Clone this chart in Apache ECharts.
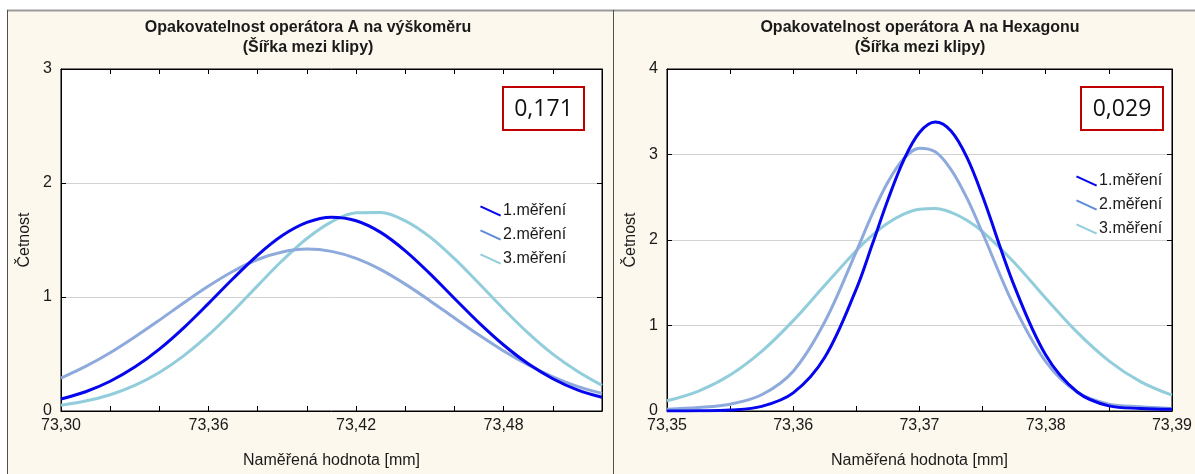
<!DOCTYPE html>
<html>
<head>
<meta charset="utf-8">
<script src="https://cdn.jsdelivr.net/npm/echarts@6/dist/echarts.min.js"></script>
<style>
  html, body { margin: 0; padding: 0; background: #fff; }
  #chart { width: 1195px; height: 474px; }
</style>
</head>
<body>
<div id="chart"></div>
<script>
// levý graf - výškoměr
const xLeft = [73.30, 73.31, 73.32, 73.33, 73.34, 73.35, 73.36, 73.37, 73.38, 73.39, 73.40, 73.41,
  73.42, 73.43, 73.44, 73.45, 73.46, 73.47, 73.48, 73.49, 73.50, 73.51, 73.52]
const left1 = [0.105, 0.169, 0.261, 0.385, 0.543, 0.732, 0.944, 1.162, 1.368, 1.539, 1.654, 1.700,
  1.669, 1.567, 1.405, 1.205, 0.987, 0.773, 0.579, 0.414, 0.283, 0.185, 0.120]
const left2 = [0.289, 0.391, 0.511, 0.649, 0.797, 0.950, 1.096, 1.226, 1.329, 1.395, 1.420, 1.400,
  1.338, 1.240, 1.113, 0.968, 0.816, 0.666, 0.527, 0.404, 0.300, 0.216, 0.155]
const left3 = [0.051, 0.087, 0.143, 0.225, 0.338, 0.486, 0.667, 0.876, 1.100, 1.320, 1.513, 1.659,
  1.738, 1.742, 1.668, 1.527, 1.336, 1.118, 0.894, 0.683, 0.499, 0.349, 0.225]

// pravý graf - Hexagon
const xRight = [73.35, 73.3525, 73.355, 73.3575, 73.36, 73.3625, 73.365, 73.36625, 73.3675, 73.36875,
  73.37, 73.37125, 73.3725, 73.37375, 73.375, 73.3775, 73.38, 73.3825, 73.385, 73.3875, 73.39]
const right1 = [0.000, 0.002, 0.011, 0.054, 0.212, 0.629, 1.429, 1.944, 2.471, 2.935,
  3.258, 3.380, 3.275, 2.969, 2.511, 1.467, 0.654, 0.222, 0.060, 0.030, 0.020]
const right2 = [0.020, 0.040, 0.080, 0.190, 0.466, 1.043, 1.868, 2.300, 2.679, 2.951,
  3.074, 3.031, 2.824, 2.492, 2.079, 1.223, 0.577, 0.218, 0.080, 0.050, 0.030]
const right3 = [0.119, 0.233, 0.421, 0.697, 1.057, 1.471, 1.878, 2.054, 2.198, 2.302,
  2.360, 2.367, 2.323, 2.232, 2.098, 1.737, 1.319, 0.919, 0.587, 0.344, 0.185]

const seriesNames = ['1.měření', '2.měření', '3.měření']
const titles = ['Opakovatelnost operátora A na výškoměru\n(Šířka mezi klipy)',
  'Opakovatelnost operátora A na Hexagonu\n(Šířka mezi klipy)']
const boxTexts = ['0,171', '0,029']

const font = 'Liberation Sans'
const textColor = '#1a1a1a'
const lineColors = ['#0505ee', '#8eaadc', '#92cddc']
const legendColors = ['#0505ee', '#5f8cd8', '#92cddc']
const legendIcon = 'path://M1,0 L23,10 L22,12 L0,2 Z'

const fmt = v => v.toFixed(2).replace('.', ',')

function pairs(xs, ys) {
  return xs.map((x, i) => [x, ys[i]])
}

function xAxisCfg(grid, min, max, interval, everyN, top) {
  return {
    type: 'value',
    gridIndex: grid,
    position: top ? 'top' : 'bottom',
    min: min,
    max: max,
    interval: interval,
    name: top ? '' : 'Naměřená hodnota [mm]',
    nameLocation: 'middle',
    nameGap: 42,
    nameTextStyle: { fontFamily: font, fontSize: 16, color: textColor },
    axisLine: { show: true, onZero: false, lineStyle: { color: '#000', width: 1 } },
    axisTick: { show: true, inside: true, length: 5, lineStyle: { color: '#000' } },
    splitLine: { show: false },
    axisLabel: {
      show: !top,
      showMaxLabel: true,
      showMinLabel: true,
      hideOverlap: false,
      margin: 7,
      fontFamily: font,
      fontSize: 16,
      color: textColor,
      formatter: function (v) {
        return Math.round((v - min) / interval) % everyN === 0 ? fmt(v) : ''
      }
    }
  }
}

function yAxisCfg(grid, max, right) {
  return {
    type: 'value',
    gridIndex: grid,
    position: right ? 'right' : 'left',
    min: 0,
    max: max,
    interval: 1,
    name: right ? '' : 'Četnost',
    nameLocation: 'middle',
    nameGap: 28,
    nameRotate: 90,
    nameTextStyle: { fontFamily: font, fontSize: 16, color: textColor },
    axisLine: { show: true, lineStyle: { color: '#000', width: 1 } },
    axisTick: { show: true, inside: true, length: 5, lineStyle: { color: '#000' } },
    splitLine: { show: !right, lineStyle: { color: '#d2d2d2', width: 1 } },
    axisLabel: { show: !right, margin: 9, fontFamily: font, fontSize: 16, color: textColor }
  }
}

function lineSeries(idx, xAxisIndex, yAxisIndex, xs, ys) {
  return {
    type: 'line',
    name: seriesNames[idx],
    xAxisIndex: xAxisIndex,
    yAxisIndex: yAxisIndex,
    data: pairs(xs, ys),
    smooth: 0.35,
    showSymbol: false,
    animation: false,
    z: 10 - idx,
    itemStyle: { color: legendColors[idx] },
    lineStyle: { color: lineColors[idx], width: 3 }
  }
}

function legendCfg(left, top) {
  return {
    data: seriesNames,
    orient: 'vertical',
    left: left,
    top: top,
    icon: legendIcon,
    itemWidth: 23,
    itemHeight: 11,
    itemGap: 8,
    padding: 0,
    selectedMode: false,
    textStyle: { fontFamily: font, fontSize: 16, color: textColor, padding: [0, 0, 0, -4] }
  }
}

function boxGraphic(x, y, w, h, text) {
  return [
    { type: 'rect', z: 50, shape: { x: x, y: y, width: w, height: h },
      style: { fill: '#fff', stroke: '#c00000', lineWidth: 2 } },
    { type: 'text', z: 51, x: x + w / 2, y: y + h / 2 + 1,
      style: { text: text, align: 'center', verticalAlign: 'middle',
        font: '23px "Open Sans"', fill: '#111' } }
  ]
}

const chart = echarts.init(document.getElementById('chart'), null, { renderer: 'canvas' })

const option = {
  backgroundColor: '#ffffff',
  animation: false,
  grid: [
    { left: 61, top: 69, width: 541, height: 342, show: true, backgroundColor: '#fff',
      borderColor: '#000', borderWidth: 1 },
    { left: 667, top: 69, width: 515, height: 342, show: true, backgroundColor: '#fff',
      borderColor: '#000', borderWidth: 1 }
  ],
  xAxis: [
    xAxisCfg(0, 73.30, 73.52, 0.02, 3, false),
    xAxisCfg(1, 73.35, 73.39, 0.005, 2, false),
    xAxisCfg(0, 73.30, 73.52, 0.02, 3, true),
    xAxisCfg(1, 73.35, 73.39, 0.005, 2, true)
  ],
  yAxis: [
    yAxisCfg(0, 3, false),
    yAxisCfg(1, 4, false),
    yAxisCfg(0, 3, true),
    yAxisCfg(1, 4, true)
  ],
  legend: [legendCfg(480, 203), legendCfg(1076, 173)],
  series: [
    lineSeries(2, 0, 0, xLeft, left3),
    lineSeries(1, 0, 0, xLeft, left2),
    lineSeries(0, 0, 0, xLeft, left1),
    lineSeries(2, 1, 1, xRight, right3),
    lineSeries(1, 1, 1, xRight, right2),
    lineSeries(0, 1, 1, xRight, right1)
  ],
  graphic: [
    // pozadí panelů
    { type: 'rect', z: -10, shape: { x: 7, y: 10, width: 606, height: 470 }, style: { fill: '#fdf8ee' } },
    { type: 'rect', z: -10, shape: { x: 613, y: 10, width: 590, height: 470 }, style: { fill: '#fdf8ee' } },
    { type: 'line', z: -9, shape: { x1: 7, y1: 10.5, x2: 1195, y2: 10.5 }, style: { stroke: '#9a9a9a', lineWidth: 2 } },
    { type: 'line', z: -9, shape: { x1: 7.5, y1: 10, x2: 7.5, y2: 474 }, style: { stroke: '#505050', lineWidth: 1 } },
    { type: 'line', z: -9, shape: { x1: 613.5, y1: 10, x2: 613.5, y2: 474 }, style: { stroke: '#505050', lineWidth: 1 } },
    { type: 'text', z: 20, x: 308, y: 18,
      style: { text: titles[0], align: 'center', font: 'bold 16px "Liberation Sans"', lineHeight: 20, fill: textColor } },
    { type: 'text', z: 20, x: 920, y: 18,
      style: { text: titles[1], align: 'center', font: 'bold 16px "Liberation Sans"', lineHeight: 20, fill: textColor } },
    ...boxGraphic(503, 87, 81, 43, boxTexts[0]),
    ...boxGraphic(1081, 87, 82, 43, boxTexts[1])
  ]
}

chart.setOption(option)
</script>
</body>
</html>
